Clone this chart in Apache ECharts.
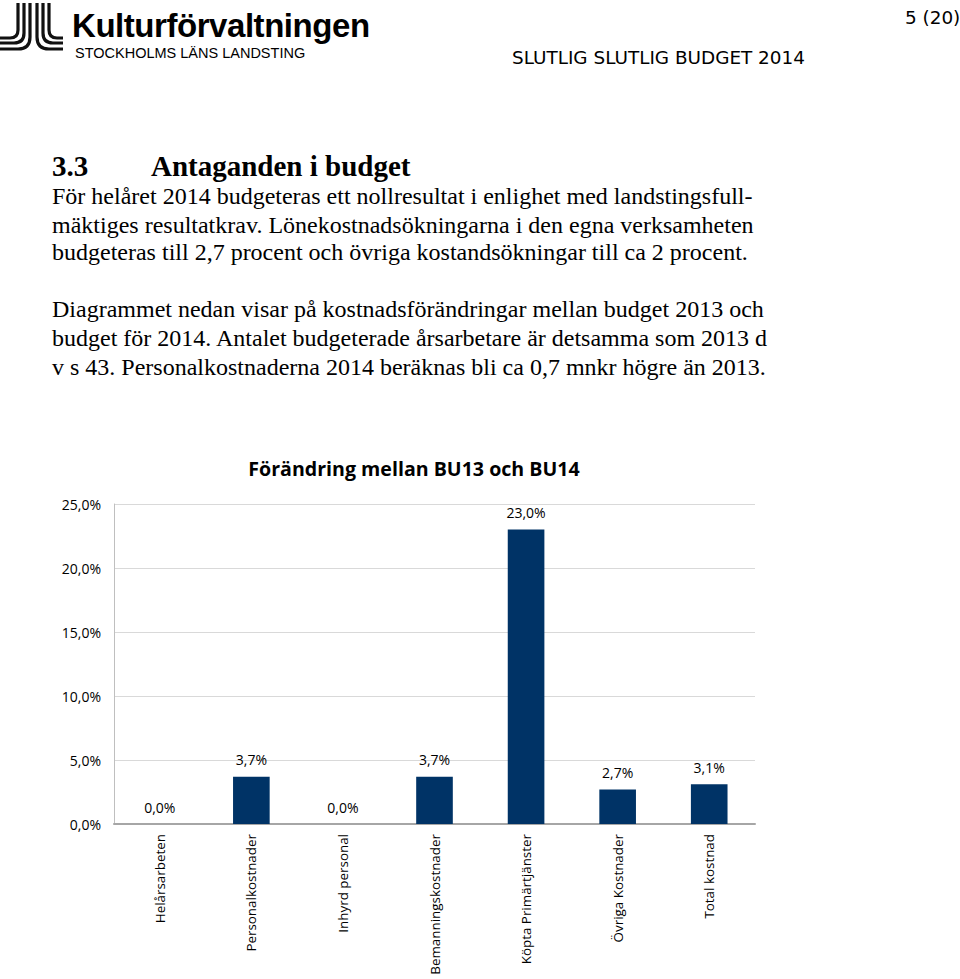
<!DOCTYPE html>
<html>
<head>
<meta charset="utf-8">
<script src="https://cdn.jsdelivr.net/npm/echarts@6/dist/echarts.min.js"></script>
<style>
  html, body { margin: 0; padding: 0; background: #fff; width: 960px; height: 979px; overflow: hidden; }
  .t { position: absolute; white-space: nowrap; color: #000; }
  .serif { font-family: "Liberation Serif", "DejaVu Serif", serif; font-size: 24px; line-height: 28px; height: 28px; }
  #chart { position: absolute; left: 0; top: 440px; width: 960px; height: 539px; }
</style>
</head>
<body>
<svg style="position:absolute;left:0;top:0" width="70" height="60" viewBox="0 0 70 60">
  <g fill="none" stroke="#111" stroke-width="3.2">
    <path d="M18 3 V30 Q18 38 10 38 H0"/>
    <path d="M24 3 V33 Q24 43 14 43 H0"/>
    <path d="M30 3 V37 Q30 49 18 49 H0"/>
    <path d="M37 3 V37 Q37 49 49 49 H63"/>
    <path d="M43 3 V33 Q43 43 53 43 H63"/>
    <path d="M49 3 V30 Q49 38 57 38 H63"/>
  </g>
</svg>
<div class="t" style="left:72px;top:9px;font-family:'Liberation Sans',Arial,sans-serif;font-weight:bold;font-size:33px;line-height:33px;letter-spacing:-0.45px;">Kulturförvaltningen</div>
<div class="t" style="left:75px;top:44px;font-family:'Liberation Sans',Arial,sans-serif;font-size:14.5px;line-height:18px;">STOCKHOLMS LÄNS LANDSTING</div>
<div class="t" style="left:905px;top:7px;font-family:'DejaVu Sans',Verdana,sans-serif;font-size:18.4px;line-height:22px;">5 (20)</div>
<div class="t" style="left:512px;top:47px;font-family:'DejaVu Sans',Verdana,sans-serif;font-size:18.4px;line-height:22px;">SLUTLIG SLUTLIG BUDGET 2014</div>

<div class="t" style="left:52px;top:150px;font-family:'Liberation Serif','DejaVu Serif',serif;font-weight:bold;font-size:29px;line-height:32px;">3.3</div>
<div class="t" style="left:151px;top:150px;font-family:'Liberation Serif','DejaVu Serif',serif;font-weight:bold;font-size:29px;line-height:32px;">Antaganden i budget</div>
<div class="t serif" style="left:52px;top:182px;">För helåret 2014 budgeteras ett nollresultat i enlighet med landstingsfull-</div>
<div class="t serif" style="left:52px;top:211px;">mäktiges resultatkrav. Lönekostnadsökningarna i den egna verksamheten</div>
<div class="t serif" style="left:52px;top:238px;">budgeteras till 2,7 procent och övriga kostandsökningar till ca 2 procent.</div>
<div class="t serif" style="left:52px;top:295px;">Diagrammet nedan visar på kostnadsförändringar mellan budget 2013 och</div>
<div class="t serif" style="left:52px;top:324px;">budget för 2014. Antalet budgeterade årsarbetare är detsamma som 2013 d</div>
<div class="t serif" style="left:52px;top:353px;">v s 43. Personalkostnaderna 2014 beräknas bli ca 0,7 mnkr högre än 2013.</div>

<div id="chart"></div>
<script>
const chartTitle = "Förändring mellan BU13 och BU14";
const categories = ["Helårsarbeten", "Personalkostnader", "Inhyrd personal", "Bemanningskostnader", "Köpta Primärtjänster", "Övriga Kostnader", "Total kostnad"];
const values = [0.0, 3.7, 0.0, 3.7, 23.0, 2.7, 3.1];
const yTicks = [0, 5, 10, 15, 20, 25];

const fmt = v => v.toFixed(1).replace('.', ',') + '%';

const chart = echarts.init(document.getElementById('chart'), null, { renderer: 'svg' });
chart.setOption({
  animation: false,
  title: {
    text: chartTitle,
    left: 409,
    textAlign: 'center',
    top: 13,
    textStyle: { fontFamily: 'Open Sans', fontWeight: 'bold', fontSize: 19.6, color: '#000' }
  },
  grid: { left: 114, right: 205, top: 64, bottom: 155, outerBoundsMode: 'none', containLabel: false },
  xAxis: {
    type: 'category',
    data: categories,
    axisLine: { lineStyle: { color: '#a6a6a6', width: 2 } },
    axisTick: { show: false },
    axisLabel: { rotate: 90, margin: 10, fontFamily: 'Open Sans', fontSize: 13.4, color: '#000' }
  },
  yAxis: {
    type: 'value',
    min: yTicks[0],
    max: yTicks[yTicks.length - 1],
    interval: yTicks[1] - yTicks[0],
    axisLine: { show: true, lineStyle: { color: '#bfbfbf', width: 1 } },
    axisTick: { show: false },
    splitLine: { lineStyle: { color: '#d9d9d9', width: 1 } },
    axisLabel: { margin: 13, fontFamily: 'Open Sans', fontSize: 14, color: '#000', formatter: fmt }
  },
  series: [{
    type: 'bar',
    data: values,
    barWidth: '40%',
    itemStyle: { color: '#003366' },
    label: { show: true, position: 'top', distance: 10, fontFamily: 'Open Sans', fontSize: 14, color: '#000', formatter: p => fmt(p.value) }
  }]
});
</script>
</body>
</html>
